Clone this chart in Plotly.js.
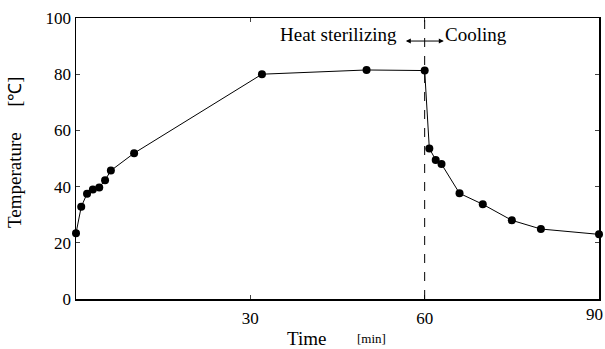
<!DOCTYPE html>
<html><head><meta charset="utf-8">
<script src="https://cdn.plot.ly/plotly-3.0.1.min.js"></script>
<style>html,body{margin:0;padding:0;background:#fff;}#chart{width:605px;height:349px;}</style>
</head><body><div id="chart"></div>
<script>
const timeMin = [0, 0.9, 1.9, 2.9, 4.0, 5.0, 6.0, 10, 32, 50, 60, 60.8, 61.9, 62.9, 66, 70, 75, 80, 90];
const tempC   = [23.4, 32.8, 37.5, 39.0, 39.7, 42.3, 45.7, 51.9, 80.0, 81.5, 81.3, 53.6, 49.5, 48.0, 37.6, 33.7, 28.0, 24.9, 23.0];
const xTicks = [30, 60, 90];
const xTickLabels = ['30', '60', '90'];
const yTicks = [0, 20, 40, 60, 80, 100];
const boundaryTime = 60;

const FAM = '"Liberation Serif", "Times New Roman", serif';
const f = (s) => ({family: FAM, color: '#000', size: s});

const lastIdx = xTicks.length - 1;
const shownTickText = xTickLabels.map((t, i) => i === lastIdx ? '' : t);

Plotly.newPlot('chart', [{
  x: timeMin, y: tempC, type: 'scatter', mode: 'lines+markers',
  line: {color: '#000', width: 1},
  marker: {color: '#000', size: 8},
  showlegend: false,
  cliponaxis: false
}], {
  width: 605, height: 349,
  margin: {l: 76, r: 6, t: 18, b: 50},
  paper_bgcolor: '#fff', plot_bgcolor: '#fff',
  font: f(16),
  xaxis: {range: [0, 90], tickvals: xTicks, ticktext: shownTickText, ticks: 'inside', ticklen: 4, showline: true, mirror: 'ticks',
          linecolor: '#000', linewidth: 1.5, showgrid: false, zeroline: false, tickfont: f(17),
          ticklabelstandoff: 3},
  yaxis: {range: [0, 100], tickvals: yTicks, ticks: 'inside', ticklen: 4, showline: true, mirror: 'ticks',
          linecolor: '#000', linewidth: 1.5, showgrid: false, zeroline: false, tickfont: f(17)},
  shapes: [{type: 'line', xref: 'x', yref: 'paper', x0: boundaryTime, x1: boundaryTime, y0: 0, y1: 1,
            line: {color: '#000', width: 1, dash: 'dash'}}],
  annotations: [
    {xref: 'x', yref: 'y', x: 45.2, y: 94.0, text: 'Heat sterilizing', showarrow: false, font: f(19)},
    {xref: 'x', yref: 'y', x: 68.8, y: 94.0, text: 'Cooling', showarrow: false, font: f(19)},
    {xref: 'x', yref: 'y', axref: 'x', ayref: 'y', x: 63.3, y: 91.8, ax: 56.5, ay: 91.8, text: '',
     showarrow: true, arrowside: 'end+start', arrowhead: 2, arrowsize: 1, arrowwidth: 1, arrowcolor: '#000'},
    {xref: 'paper', yref: 'y', x: 1.011, xanchor: 'right', y: 0, yanchor: 'top', yshift: -4, text: xTickLabels[lastIdx], showarrow: false, font: f(17)},
    {xref: 'paper', yref: 'paper', x: (306-76)/523, xanchor: 'center', y: -0.139, yanchor: 'middle', text: 'Time', showarrow: false, font: f(19)},
    {xref: 'paper', yref: 'paper', x: (371-76)/523, xanchor: 'center', y: -0.139, yanchor: 'middle', text: '[min]', showarrow: false, font: f(13)},
    {xref: 'paper', yref: 'paper', x: (15-76)/523, xanchor: 'center', y: 0.4235, yanchor: 'middle', text: 'Temperature',
     textangle: -90, showarrow: false, font: f(19)},
    {xref: 'paper', yref: 'paper', x: (15-76)/523, xanchor: 'center', y: 0.738, yanchor: 'middle', text: '[℃]',
     textangle: -90, showarrow: false, font: f(18)}
  ]
}, {staticPlot: true, displayModeBar: false});
</script></body></html>
